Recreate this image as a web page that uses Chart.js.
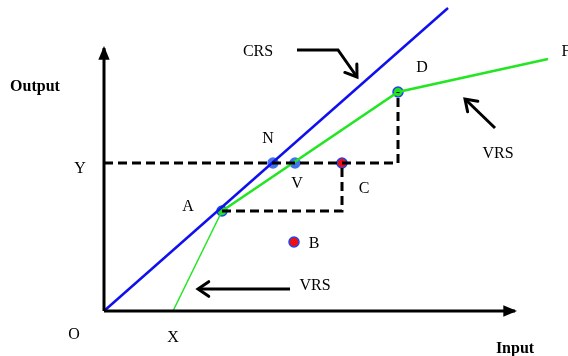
<!DOCTYPE html>
<html>
<head>
<meta charset="utf-8">
<script src="https://cdn.jsdelivr.net/npm/chart.js@4/dist/chart.umd.min.js"></script>
<style>
html,body{margin:0;padding:0;background:#fff;}
#wrap{width:568px;height:356px;}
</style>
</head>
<body>
<div id="wrap"><canvas id="c" width="568" height="356"></canvas></div>
<script>
// ---- data (diagram units) ----
const crsX = [0, 34.4];
const crsY = [0, 30.3];
const vrsSteepX = [6.9, 11.8];
const vrsSteepY = [0, 10.0];
const vrsX = [11.8, 29.4, 44.4];
const vrsY = [10.0, 21.9, 25.2];
const dotNames = ['A', 'N', 'V', 'C', 'B', 'D'];
const dotX = [11.8, 16.9, 19.1, 23.8, 19.0, 29.4];
const dotY = [10.0, 14.8, 14.8, 14.8, 6.9, 21.9];
const levelYX = [0, 29.4, 29.4];
const levelYY = [14.8, 14.8, 21.9];
const levelAX = [11.8, 23.8, 23.8];
const levelAY = [10.0, 10.0, 14.8];
const xAxisX = [0, 41.1];
const xAxisY = [0, 0];
const yAxisX = [0, 0];
const yAxisY = [0, 26.3];
const crsArrowX = [19.3, 23.4, 25.3];
const crsArrowY = [26.1, 26.1, 23.4];
const vrsArrowX = [39.1, 36.1];
const vrsArrowY = [18.3, 21.2];
const vrsArrow2X = [18.6, 9.4];
const vrsArrow2Y = [2.2, 2.2];
const labelText = ['Output', 'Input', 'Y', 'A', 'N', 'V', 'C', 'B', 'D', 'F', 'CRS', 'VRS', 'VRS', 'O', 'X'];
const labelX = [-6.9, 41.1, -2.4, 8.4, 16.4, 19.3, 26.0, 21.0, 31.8, 46.2, 15.4, 39.4, 21.1, -3.0, 6.9];
const labelY = [22.6, -3.6, 14.4, 10.6, 17.4, 12.9, 12.4, 6.9, 24.5, 26.1, 26.1, 15.9, 2.7, -2.2, -2.5];
const labelBold = [true, true, false, false, false, false, false, false, false, false, false, false, false, false, false];

const pts = (xs, ys) => xs.map((x, i) => ({x: x, y: ys[i]}));

const line = (xs, ys, color, width, extra) => Object.assign({
  type: 'line', data: pts(xs, ys), borderColor: color, borderWidth: width,
  pointRadius: 0, fill: false, tension: 0, clip: false, showLine: true
}, extra || {});

const dotFill = ['#22dd22', '#4472ee', '#4472ee', '#ee1111', '#ee1111', '#22dd22'];
const dotBorder = ['#2244ee', '#4472ee', '#4472ee', '#2244ee', '#2244ee', '#2244ee'];

const labelPlugin = {
  id: 'labels',
  afterDatasetsDraw(chart) {
    const ctx = chart.ctx, xs = chart.scales.x, ys = chart.scales.y;
    chart.data.datasets.forEach((ds) => {
      if (!ds.arrowHead) return;
      const n = ds.data.length;
      const p1 = ds.data[n - 2], p2 = ds.data[n - 1];
      const x1 = xs.getPixelForValue(p1.x), y1 = ys.getPixelForValue(p1.y);
      const x2 = xs.getPixelForValue(p2.x), y2 = ys.getPixelForValue(p2.y);
      const ang = Math.atan2(y2 - y1, x2 - x1);
      const L = 13;
      const spread = ds.arrowHead === 'filled' ? 0.45 : 0.6;
      const ax = x2 - L * Math.cos(ang - spread), ay = y2 - L * Math.sin(ang - spread);
      const bx = x2 - L * Math.cos(ang + spread), by = y2 - L * Math.sin(ang + spread);
      ctx.save();
      ctx.strokeStyle = '#000'; ctx.fillStyle = '#000';
      ctx.lineWidth = 3; ctx.lineCap = 'round'; ctx.lineJoin = 'miter';
      ctx.beginPath();
      if (ds.arrowHead === 'filled') {
        ctx.moveTo(x2 + 2 * Math.cos(ang), y2 + 2 * Math.sin(ang));
        ctx.lineTo(ax, ay); ctx.lineTo(bx, by); ctx.closePath(); ctx.fill();
      } else {
        ctx.moveTo(ax, ay); ctx.lineTo(x2, y2); ctx.lineTo(bx, by); ctx.stroke();
      }
      ctx.restore();
    });
    ctx.save();
    ctx.fillStyle = '#000';
    ctx.textAlign = 'center';
    ctx.textBaseline = 'middle';
    labelText.forEach((t, i) => {
      ctx.font = labelBold[i] ? 'bold 16px "Liberation Serif", serif' : '16px "Liberation Serif", serif';
      ctx.fillText(t, xs.getPixelForValue(labelX[i]), ys.getPixelForValue(labelY[i]) + 2);
    });
    ctx.restore();
  }
};

new Chart(document.getElementById('c'), {
  type: 'scatter',
  data: {
    datasets: [
      line(levelYX, levelYY, '#000', 3, {borderDash: [9, 5]}),
      line(levelAX, levelAY, '#000', 3, {borderDash: [9, 5]}),
      line(xAxisX, xAxisY, '#000', 3, {arrowHead: 'filled'}),
      line(yAxisX, yAxisY, '#000', 3, {arrowHead: 'filled'}),
      line(crsX, crsY, '#1010ee', 2.5),
      line(vrsSteepX, vrsSteepY, '#22e622', 1.5),
      line(vrsX, vrsY, '#22e622', 2.5),
      line(crsArrowX, crsArrowY, '#000', 3, {arrowHead: 'open'}),
      line(vrsArrowX, vrsArrowY, '#000', 3, {arrowHead: 'open'}),
      line(vrsArrow2X, vrsArrow2Y, '#000', 3, {arrowHead: 'open'}),
      {
        type: 'scatter', data: pts(dotX, dotY), showLine: false, clip: false,
        pointRadius: 5, pointBorderWidth: 1.5,
        pointBackgroundColor: dotFill, pointBorderColor: dotBorder
      }
    ]
  },
  options: {
    responsive: false,
    animation: false,
    events: [],
    layout: {autoPadding: false, padding: {left: 104, right: 0, top: 0, bottom: 45}},
    scales: {
      x: {type: 'linear', min: 0, max: 46.4, display: false},
      y: {type: 'linear', min: 0, max: 31.1, display: false}
    },
    plugins: {legend: {display: false}, tooltip: {enabled: false}, title: {display: false}}
  },
  plugins: [labelPlugin]
});
</script>
</body>
</html>
